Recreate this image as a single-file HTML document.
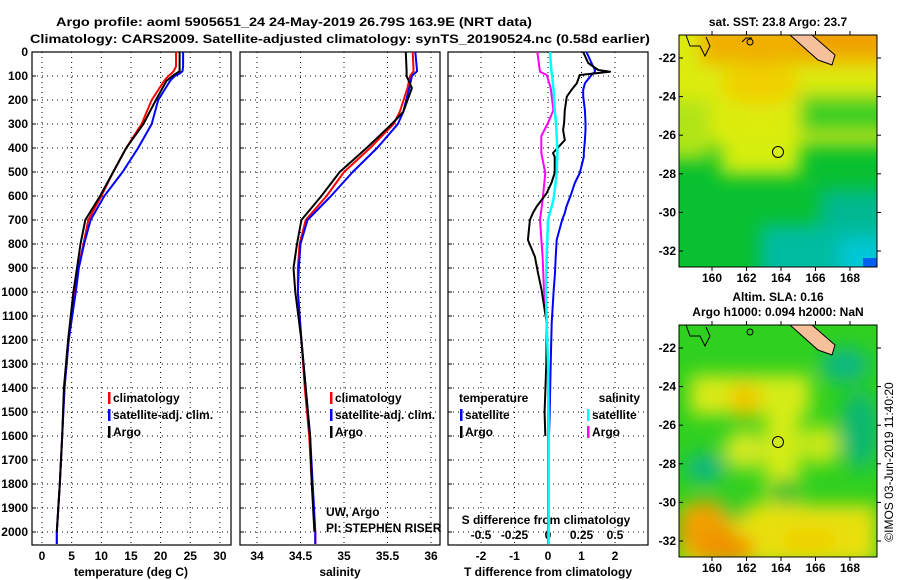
<!DOCTYPE html>
<html><head><meta charset="utf-8"><style>
body{margin:0;background:#fff}
svg{display:block;font-family:"Liberation Sans",sans-serif}
.t{font-weight:bold;font-size:12px}
</style></head><body>
<svg id="c" width="900" height="580" viewBox="0 0 900 580">
<defs>
<filter id="bl" x="-20%" y="-20%" width="140%" height="140%"><feGaussianBlur stdDeviation="9"/></filter>
<clipPath id="m1"><rect x="679" y="35" width="198" height="232"/></clipPath>
<clipPath id="m2"><rect x="679" y="325" width="198" height="232"/></clipPath>
</defs>
<text class="t" x="294" y="26" text-anchor="middle" font-size="14" textLength="476" lengthAdjust="spacingAndGlyphs">Argo profile: aoml 5905651_24 24-May-2019 26.79S 163.9E (NRT data)</text>
<text class="t" x="340" y="43" text-anchor="middle" font-size="14" textLength="620" lengthAdjust="spacingAndGlyphs">Climatology: CARS2009. Satellite-adjusted climatology: synTS_20190524.nc (0.58d earlier)</text>
<g id="plots"></g>
<!-- Top map -->
<g>
<g clip-path="url(#m1)">
<rect x="679" y="35" width="198" height="232" fill="#08c030"/>
<g filter="url(#bl)">
<rect x="650" y="10" width="260" height="135" fill="#dcec10"/>
<rect x="650" y="100" width="60" height="60" fill="#b0e418"/>
<rect x="720" y="140" width="80" height="35" fill="#d4ee10"/>
<rect x="800" y="95" width="100" height="40" fill="#40d020"/>
<rect x="700" y="10" width="200" height="55" fill="#f0b000"/>
<ellipse cx="760" cy="85" rx="40" ry="20" fill="#f0d000"/>
<rect x="800" y="10" width="100" height="40" fill="#f0a000"/>
<rect x="820" y="190" width="80" height="90" fill="#00b890"/>
<rect x="760" y="225" width="140" height="60" fill="#00bca0"/>
<rect x="840" y="240" width="50" height="40" fill="#00c8d8"/>
</g>
<rect x="863" y="258" width="14" height="9" fill="#0060f0"/>
<path d="M790,35 L812,35 L835,55 L832,65 L818,60 Z" fill="#f6c09a" stroke="#000" stroke-width="1"/>
<path d="M686,35 L690,46 L700,46 L705,56 L710,46 L706,37" fill="none" stroke="#000"/>
<path d="M742,42 L746,38 L752,38" fill="none" stroke="#000"/>
<circle cx="750" cy="42" r="3" fill="none" stroke="#000"/>
</g>
<rect x="679" y="35" width="198" height="232" fill="none" stroke="#000"/>
<circle cx="778" cy="152" r="5.5" fill="none" stroke="#000"/>
<text class="t" x="778" y="26" text-anchor="middle">sat. SST: 23.8 Argo: 23.7</text>
</g>
<!-- Bottom map -->
<g>
<g clip-path="url(#m2)">
<rect x="679" y="325" width="198" height="232" fill="#30d020"/>
<g filter="url(#bl)">
<rect x="690" y="375" width="120" height="40" fill="#d8ea18"/>
<ellipse cx="745" cy="400" rx="16" ry="18" fill="#f0c800"/>
<rect x="765" y="380" width="35" height="150" fill="#d4ec18"/>
<ellipse cx="745" cy="450" rx="22" ry="20" fill="#d0e820"/>
<ellipse cx="820" cy="445" rx="20" ry="20" fill="#c8e818"/>
<ellipse cx="705" cy="468" rx="20" ry="15" fill="#10b880"/>
<ellipse cx="860" cy="430" rx="20" ry="40" fill="#10b870"/>
<ellipse cx="845" cy="365" rx="25" ry="18" fill="#10b880"/>
<rect x="679" y="505" width="198" height="60" fill="#e8e010"/>
<ellipse cx="705" cy="530" rx="28" ry="30" fill="#f0a000"/>
<ellipse cx="725" cy="548" rx="30" ry="15" fill="#f09000"/>
<ellipse cx="810" cy="540" rx="30" ry="12" fill="#f0d000"/>
<ellipse cx="785" cy="492" rx="16" ry="14" fill="#20c030"/>
<ellipse cx="735" cy="510" rx="14" ry="10" fill="#30c828"/>
</g>
<path d="M790,325 L812,325 L835,345 L832,355 L818,350 Z" fill="#f6c09a" stroke="#000" stroke-width="1"/>
<path d="M686,325 L690,336 L700,336 L705,346 L710,336 L706,327" fill="none" stroke="#000"/>
<circle cx="750" cy="332" r="3" fill="none" stroke="#000"/>
</g>
<rect x="679" y="325" width="198" height="232" fill="none" stroke="#000"/>
<circle cx="778" cy="442" r="5.5" fill="none" stroke="#000"/>
<text class="t" x="778" y="301" text-anchor="middle">Altim. SLA: 0.16</text>
<text class="t" x="778" y="316" text-anchor="middle">Argo h1000: 0.094 h2000: NaN</text>
</g>
<text x="893" y="462" font-size="12" text-anchor="middle" transform="rotate(-90 893 462)">©IMOS 03-Jun-2019 11:40:20</text>
</svg>
<script>
const depthTicks=[0,100,200,300,400,500,600,700,800,900,1000,1100,1200,1300,1400,1500,1600,1700,1800,1900,2000];
const tempTicks=[0,5,10,15,20,25,30];
const salTicks=[34,34.5,35,35.5,36];
const salTickLabels=["34","34.5","35","35.5","36"];
const tdTicks=[-2,-1,0,1,2];
const sdTickLabels=["-0.5","-0.25","0","0.25","0.5"];
const sdTicks=[-0.5,-0.25,0,0.25,0.5];
// temperature profiles [depth]
const tDepth=[0,60,80,90,100,120,200,300,400,500,600,700,800,900,1000,1200,1400,1600,1800,2000,2050];
const tArgo=[23.2,23.2,23.2,22.6,22.0,21.0,19.2,17.1,14.2,12.0,9.8,7.3,6.5,5.9,5.3,4.4,3.7,3.4,3.0,2.5,null];
const tClim=[22.6,22.6,22.2,21.8,21.3,20.6,18.5,16.8,14.2,12.0,10.0,7.8,7.0,6.1,5.6,4.5,3.8,3.4,3.0,2.5,2.5];
const tSat=[23.8,23.8,23.7,23.2,22.4,21.6,19.6,18.5,16.2,13.6,10.5,8.2,7.1,6.2,5.7,4.5,3.8,3.4,3.0,2.5,2.5];
// salinity profiles
const sDepth=[0,80,100,150,250,300,400,500,600,700,800,900,1000,1200,1400,1600,1800,2000,2050];
const sArgo=[35.71,35.72,35.72,35.78,35.68,35.55,35.26,34.95,34.74,34.51,34.46,34.42,34.44,34.51,34.56,34.61,34.63,34.66,null];
const sClim=[35.79,35.80,35.76,35.73,35.64,35.57,35.30,35.00,34.80,34.56,34.49,34.47,34.47,34.51,34.55,34.60,34.63,34.67,34.67];
const sSat=[35.82,35.84,35.78,35.75,35.68,35.62,35.38,35.10,34.85,34.58,34.50,34.48,34.47,34.51,34.56,34.61,34.64,34.67,34.67];
// difference profiles
const dDepthT=[0,46,75,82,96,130,158,186,242,296,325,367,421,437,504,546,588,644,671,700,783,853,921,992,1129,1300,1500,1600];
const dTArgo=[1.05,1.2,1.5,1.85,0.95,0.86,0.7,0.56,0.5,0.48,0.45,0.5,0.15,0.2,0.2,0.1,-0.04,-0.34,-0.45,-0.54,-0.6,-0.39,-0.3,-0.19,-0.04,-0.05,-0.1,-0.08];
const dTSat=[1.15,1.3,1.4,1.4,1.3,1.1,1.05,1.05,1.1,1.12,1.12,1.1,1.07,1.07,0.95,0.8,0.7,0.55,0.5,0.42,0.26,0.23,0.21,0.17,0.11,0.08,0.05,0.03];
const dDepthS=[0,82,96,150,242,296,350,421,504,617,700,853,992,1129,1300,1600,1800,2050];
const dSArgo=[-0.08,-0.06,-0.01,0.02,0.04,0.0,-0.05,-0.05,-0.02,-0.04,-0.06,-0.04,-0.03,-0.01,0.0,0.0,0.0,0.0];
const dSSat=[0.015,0.025,0.03,0.04,0.05,0.06,0.065,0.07,0.065,0.04,0.0,-0.01,-0.015,-0.01,0.0,0.005,0.005,0.005];
const mapLon=[160,162,164,166,168];
const mapLat=[-22,-24,-26,-28,-30,-32];

const NS="http://www.w3.org/2000/svg";
const g=document.getElementById('plots');
const top0=52,bot=545,dScale=0.24;
const yD=d=>top0+d*dScale;
function el(t,a,p){const e=document.createElementNS(NS,t);for(const k in a)e.setAttribute(k,a[k]);(p||g).appendChild(e);return e;}
function txt(x,y,s,anchor,cls,p){const e=el('text',{x:x,y:y,'text-anchor':anchor||'start',class:cls||'t'},p);e.textContent=s;return e;}

const panels=[
 {name:'temperature',x0:32,x1:231,xs:v=>42+v*5.93},
 {name:'salinity',x0:240,x1:440,xs:v=>257+(v-34)*87},
 {name:'difference',x0:448,x1:648,xs:v=>548+v*33.5}
];
panels.forEach((p,i)=>{
 const pg=el('g',{});
 
 
 const vt=i===0?tempTicks:i===1?salTicks:tdTicks;
 vt.forEach(v=>{const l=el('line',{x1:p.xs(v),x2:p.xs(v),y1:top0,y2:bot,stroke:'#000','stroke-dasharray':'1 4','stroke-width':1},pg);
  });
 depthTicks.forEach(d=>{const l=el('line',{x1:p.x0,x2:p.x1,y1:yD(d),y2:yD(d),stroke:'#000','stroke-dasharray':'1 4','stroke-width':1},pg);
  
  el('line',{x1:p.x0,x2:p.x0+4,y1:yD(d),y2:yD(d),stroke:'#000'},pg);});
 const fr=el('rect',{x:p.x0,y:top0,width:p.x1-p.x0,height:bot-top0,fill:'none',stroke:'#000','stroke-width':1.2},pg);
 
});
depthTicks.forEach(d=>{const t=txt(28,yD(d)+4,String(d),'end');
 });
tempTicks.forEach(v=>{const t=txt(panels[0].xs(v),560,String(v),'middle');});
salTicks.forEach((v,i)=>{const t=txt(panels[1].xs(v),560,salTickLabels[i],'middle');});
tdTicks.forEach(v=>{const t=txt(panels[2].xs(v),560,String(v),'middle');});
sdTicks.forEach((v,i)=>{const t=txt(548+v*134,539,sdTickLabels[i],'middle');});
[[131,'temperature (deg C)','temp-axis-title'],[340,'salinity','sal-axis-title'],[548,'T difference from climatology','tdiff-axis-title']].forEach(a=>{
 const t=txt(a[0],576,a[1],'middle');});
{const t=txt(546,524,'S difference from climatology','middle');}

function line(depths,vals,xs,color,name,w){
 const pts=[];depths.forEach((d,i)=>{if(vals[i]!==null)pts.push(xs(vals[i]).toFixed(1)+','+yD(d).toFixed(1));});
 const l=el('polyline',{points:pts.join(' '),fill:'none',stroke:color,'stroke-width':w||2,'stroke-linejoin':'round'});
 
}
const p0=panels[0].xs,p1=panels[1].xs,p2=panels[2].xs,ps=v=>548+v*134;
line(tDepth,tClim,p0,'#f00','temp-climatology-line');
line(tDepth,tSat,p0,'#00f','temp-satellite-line');
line(tDepth,tArgo,p0,'#000','temp-argo-line');
line(sDepth,sClim,p1,'#f00','sal-climatology-line');
line(sDepth,sSat,p1,'#00f','sal-satellite-line');
line(sDepth,sArgo,p1,'#000','sal-argo-line');
line(dDepthT,dTSat,p2,'#00f','tdiff-satellite-line');
line(dDepthS,dSArgo,ps,'#f0f','sdiff-argo-line');
line(dDepthT,dTArgo,p2,'#000','tdiff-argo-line');
line(dDepthS,dSSat,ps,'#0ff','sdiff-satellite-line',2.5);

function legend(x,y,color,label,name){
 const lg=el('g',{});
 el('rect',{x:x,y:y-10,width:2.5,height:12,fill:color},lg);
 txt(x+5,y,label,'start','t',lg);
}
[[108,'temp'],[330,'sal']].forEach(a=>{
 legend(a[0],402,'#f00','climatology',a[1]+'-legend-climatology');
 legend(a[0],419,'#00f','satellite-adj. clim.',a[1]+'-legend-satellite');
 legend(a[0],436,'#000','Argo',a[1]+'-legend-argo');
});
{const t=txt(459,402,'temperature','start');}
{const t=txt(640,402,'salinity','end');}
legend(460,419,'#00f','satellite','tdiff-legend-satellite');
legend(460,436,'#000','Argo','tdiff-legend-argo');
legend(587,419,'#0ff','satellite','sdiff-legend-satellite');
legend(587,436,'#f0f','Argo','sdiff-legend-argo');
{const t=txt(326,516,'UW, Argo','start','');t.setAttribute('font-size','12');}
{const t=txt(326,532,'PI: STEPHEN RISER','start','');t.setAttribute('font-size','12');}

const svg=document.getElementById('c');
[[35,267,'sst'],[325,557,'sla']].forEach(m=>{
 const lonX=v=>712+(v-160)*17.25, latY=v=>m[0]+23+(-22-v)*19.3;
 mapLon.forEach(v=>{
  el('line',{x1:lonX(v),x2:lonX(v),y1:m[0]-4,y2:m[0],stroke:'#000'},svg);
  el('line',{x1:lonX(v),x2:lonX(v),y1:m[1],y2:m[1]+4,stroke:'#000'},svg);
  const t=txt(lonX(v),m[1]+15,String(v),'middle','t',svg);
 });
 mapLat.forEach(v=>{
  el('line',{x1:877,x2:881,y1:latY(v),y2:latY(v),stroke:'#000'},svg);
  el('line',{x1:679,x2:683,y1:latY(v),y2:latY(v),stroke:'#000'},svg);
  const t=txt(676,latY(v)+4,String(v),'end','t',svg);
 });
});
</script>
</body></html>
